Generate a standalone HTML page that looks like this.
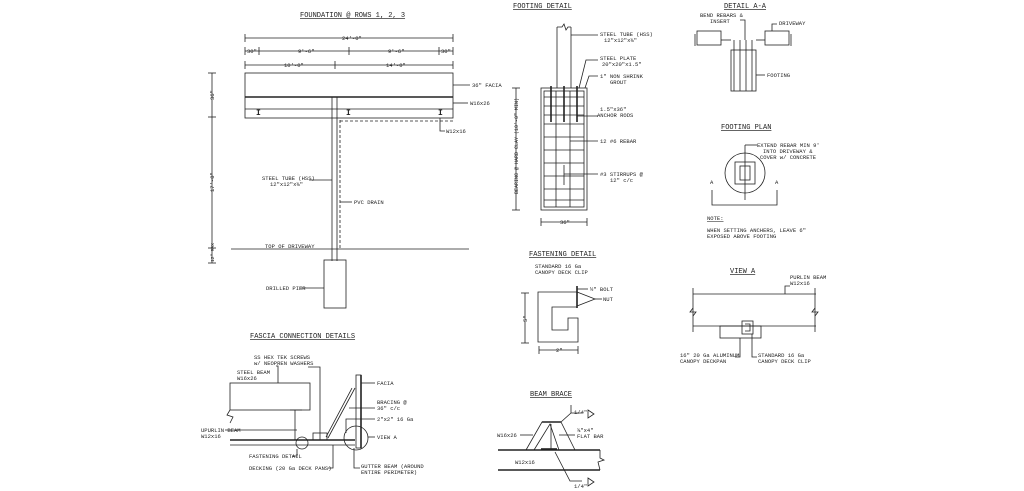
<!DOCTYPE html>
<html><head><meta charset="utf-8"><style>
html,body{margin:0;padding:0;background:#fff}
svg{display:block}
text{font-family:"Liberation Mono",monospace;font-size:5.5px;fill:#222}
.t{font-size:7px;text-decoration:underline}
line,rect,path,circle,polyline,polygon{stroke:#222;stroke-width:.8;fill:none}
.th{stroke-width:1.6}
.d{stroke-dasharray:3 2}
</style></head><body>
<svg width="1024" height="491" viewBox="0 0 1024 491" xmlns="http://www.w3.org/2000/svg">
<!-- FOUNDATION -->
<text class="t" x="300" y="17">FOUNDATION @ ROWS 1, 2, 3</text>
<line x1="245" y1="38" x2="453" y2="38"/><line x1="245" y1="34" x2="245" y2="42"/><line x1="453" y1="34" x2="453" y2="42"/>
<text x="342" y="40">24'-0"</text>
<line x1="245" y1="51" x2="453" y2="51"/>
<g><line x1="245" y1="47" x2="245" y2="55"/><line x1="259" y1="47" x2="259" y2="55"/><line x1="349" y1="47" x2="349" y2="55"/><line x1="439" y1="47" x2="439" y2="55"/><line x1="453" y1="47" x2="453" y2="55"/></g>
<text x="247" y="53">30"</text><text x="298" y="53">9'-6"</text><text x="388" y="53">9'-6"</text><text x="441" y="53">30"</text>
<line x1="245" y1="65" x2="453" y2="65"/><line x1="245" y1="61" x2="245" y2="69"/><line x1="335" y1="61" x2="335" y2="69"/><line x1="453" y1="61" x2="453" y2="69"/>
<text x="284" y="67">10'-0"</text><text x="386" y="67">14'-0"</text>
<rect x="245" y="73" width="208" height="45"/>
<line class="th" x1="245" y1="97" x2="453" y2="97"/>
<line x1="245" y1="109" x2="453" y2="109"/>
<text x="256" y="115" style="font-size:8px;font-weight:bold">I</text><text x="346" y="115" style="font-size:8px;font-weight:bold">I</text><text x="438" y="115" style="font-size:8px;font-weight:bold">I</text>
<line x1="332" y1="97" x2="332" y2="261"/><line x1="337" y1="97" x2="337" y2="261"/>
<line class="d" x1="340" y1="120" x2="340" y2="248"/><line class="d" x1="340" y1="121" x2="453" y2="121"/>
<line x1="453" y1="85" x2="470" y2="85"/><text x="472" y="87">36" FACIA</text>
<line x1="453" y1="103" x2="468" y2="103"/><text x="470" y="105">W16x26</text>
<polyline points="440,118 440,131 445,131"/><text x="446" y="133">W12x16</text>
<line x1="231" y1="249" x2="469" y2="249"/>
<text x="265" y="248">TOP OF DRIVEWAY</text>
<rect x="324" y="260" width="22" height="48"/>
<line x1="300" y1="288" x2="324" y2="288"/><text x="266" y="290">DRILLED PIER</text>
<line x1="309" y1="180" x2="332" y2="180"/><text x="262" y="180">STEEL TUBE (HSS)</text><text x="270" y="186">12"x12"x⅜"</text>
<line x1="340" y1="202" x2="352" y2="202"/><text x="354" y="204">PVC DRAIN</text>
<line x1="212" y1="73" x2="212" y2="263"/><line x1="208" y1="73" x2="216" y2="73"/><line x1="208" y1="117" x2="216" y2="117"/><line x1="208" y1="248" x2="216" y2="248"/><line x1="208" y1="263" x2="216" y2="263"/>
<text transform="translate(214,100) rotate(-90)">36"</text><text transform="translate(214,192) rotate(-90)">17'-0"</text><text transform="translate(214,262) rotate(-90)" style="font-size:4.5px">12" MAX</text>
<!-- FOOTING DETAIL -->
<text class="t" x="513" y="8">FOOTING DETAIL</text>
<line x1="557" y1="27" x2="557" y2="88"/><line x1="571" y1="27" x2="571" y2="88"/><path d="M557 27 L562 27 L564 24 L566 30 L568 27 L571 27"/>
<line x1="571" y1="35" x2="598" y2="35"/><text x="600" y="36">STEEL TUBE (HSS)</text><text x="604" y="42">12"x12"x⅜"</text>
<path d="M579 88 L586 60 L598 60"/><text x="600" y="60">STEEL PLATE</text><text x="602" y="66">20"x20"x1.5"</text>
<path d="M585 88 L589 76 L598 76"/><text x="600" y="78">1" NON SHRINK</text><text x="610" y="84">GROUT</text>
<rect x="541" y="88" width="46" height="122"/>
<rect x="544" y="91" width="40" height="116"/>
<g><line x1="544" y1="97" x2="584" y2="97"/><line x1="544" y1="106" x2="584" y2="106"/><line x1="544" y1="115" x2="584" y2="115"/><line x1="544" y1="124" x2="584" y2="124"/><line x1="544" y1="137" x2="584" y2="137"/><line x1="544" y1="150" x2="584" y2="150"/><line x1="544" y1="163" x2="584" y2="163"/><line x1="544" y1="176" x2="584" y2="176"/><line x1="544" y1="189" x2="584" y2="189"/><line x1="544" y1="200" x2="584" y2="200"/>
<line x1="556" y1="91" x2="556" y2="207"/><line x1="570" y1="91" x2="570" y2="207"/></g>
<g><line class="th" x1="551" y1="86" x2="551" y2="122"/><line class="th" x1="564" y1="86" x2="564" y2="122"/><line class="th" x1="577" y1="86" x2="577" y2="122"/></g>
<line x1="577" y1="116" x2="598" y2="116"/><text x="600" y="111">1.5"x36"</text><text x="597" y="117">ANCHOR RODS</text>
<line x1="570" y1="141" x2="598" y2="141"/><text x="600" y="143">12 #6 REBAR</text>
<line x1="564" y1="174" x2="598" y2="174"/><line x1="564" y1="165" x2="564" y2="185"/><text x="600" y="176">#3 STIRRUPS @</text><text x="610" y="182">12" c/c</text>
<line x1="516" y1="88" x2="516" y2="210"/><line x1="512" y1="88" x2="520" y2="88"/><line x1="512" y1="210" x2="520" y2="210"/>
<text transform="translate(518,194) rotate(-90)" style="font-size:5px">BEARING @ HARD CLAY (10'-0" MIN)</text>
<line x1="541" y1="222" x2="587" y2="222"/><line x1="541" y1="218" x2="541" y2="226"/><line x1="587" y1="218" x2="587" y2="226"/><text x="560" y="224">36"</text>
<!-- DETAIL A-A -->
<text class="t" x="724" y="8">DETAIL A-A</text>
<line x1="695" y1="34" x2="695" y2="46"/><rect x="697" y="31" width="24" height="14"/><line x1="721" y1="40" x2="731" y2="40"/>
<rect x="765" y="31" width="24" height="14"/><line x1="791" y1="34" x2="791" y2="46"/><line x1="756" y1="40" x2="765" y2="40"/>
<rect x="731" y="50" width="25" height="41"/><line x1="734" y1="40" x2="734" y2="91"/><line x1="740" y1="40" x2="740" y2="91"/><line x1="746" y1="40" x2="746" y2="91"/><line x1="752" y1="40" x2="752" y2="91"/>
<path d="M740 20 L745 20 L745 40"/><text x="700" y="17">BEND REBARS &amp;</text><text x="710" y="23">INSERT</text>
<path d="M772 31 L772 24 L777 24"/><text x="779" y="25">DRIVEWAY</text>
<line x1="756" y1="75" x2="765" y2="75"/><text x="767" y="77">FOOTING</text>
<!-- FOOTING PLAN -->
<text class="t" x="721" y="129">FOOTING PLAN</text>
<circle cx="745" cy="173" r="20"/><rect x="735" y="162" width="20" height="22"/><rect x="740" y="166" width="10" height="14"/>
<line x1="745" y1="145" x2="745" y2="200"/><line x1="745" y1="145" x2="757" y2="145"/>
<text x="757" y="147">EXTEND REBAR MIN 9'</text><text x="763" y="153">INTO DRIVEWAY &amp;</text><text x="760" y="159">COVER w/ CONCRETE</text>
<text x="710" y="184">A</text><text x="775" y="184">A</text>
<polyline points="712,190 712,205 777,205 777,190"/>
<text x="707" y="220" style="text-decoration:underline">NOTE:</text>
<text x="707" y="232">WHEN SETTING ANCHERS, LEAVE 6"</text><text x="707" y="238">EXPOSED ABOVE FOOTING</text>
<!-- FASTENING DETAIL -->
<text class="t" x="529" y="256">FASTENING DETAIL</text>
<text x="535" y="268">STANDARD 16 Ga</text><text x="535" y="274">CANOPY DECK CLIP</text>
<path d="M577 307 L552 307 L552 330 L568 330 L568 318 L578 318 L578 342 L538 342 L538 292 L577 292 Z"/>
<line class="th" x1="577" y1="286" x2="577" y2="308"/>
<line x1="577" y1="289" x2="588" y2="289"/><text x="590" y="291">½" BOLT</text>
<polyline points="577,292 595,299 577,306"/><line x1="595" y1="299" x2="602" y2="299"/><text x="603" y="301">NUT</text>
<line x1="525" y1="293" x2="525" y2="343"/><line x1="521" y1="293" x2="529" y2="293"/><line x1="521" y1="343" x2="529" y2="343"/><text transform="translate(527,322) rotate(-90)">5"</text>
<line x1="539" y1="350" x2="578" y2="350"/><line x1="539" y1="346" x2="539" y2="354"/><line x1="578" y1="346" x2="578" y2="354"/><text x="556" y="352">2"</text>
<!-- VIEW A -->
<text class="t" x="730" y="273">VIEW A</text>
<line x1="693" y1="294" x2="816" y2="294"/><line x1="693" y1="326" x2="816" y2="326"/>
<line x1="693" y1="288" x2="693" y2="332"/><line x1="815" y1="288" x2="815" y2="332"/>
<path d="M693 308 L690 312 L696 312 L693 316"/><path d="M815 308 L812 312 L818 312 L815 316"/>
<rect x="720" y="326" width="41" height="12"/><rect x="742" y="321" width="11" height="13"/><path d="M745 324 L750 324 L750 331 L745 331"/>
<path d="M785 294 L785 286 L790 286"/><text x="790" y="279">PURLIN BEAM</text><text x="790" y="285">W12x16</text>
<path d="M740 338 L740 357 L735 357"/><text x="680" y="357">16" 20 Ga ALUMINUM</text><text x="680" y="363">CANOPY DECKPAN</text>
<path d="M752 334 L752 357 L757 357"/><text x="758" y="357">STANDARD 16 Ga</text><text x="758" y="363">CANOPY DECK CLIP</text>
<!-- BEAM BRACE -->
<text class="t" x="530" y="396">BEAM BRACE</text>
<line class="th" x1="498" y1="450" x2="600" y2="450"/><line class="th" x1="498" y1="470" x2="600" y2="470"/>
<path d="M600 450 L600 458 L604 460 L598 462 L600 470"/>
<polyline points="526,450 542,422 561,422 575,450"/><polyline points="534,450 550,424 559,450"/><line x1="551" y1="424" x2="551" y2="450"/>
<line class="th" x1="542" y1="422" x2="561" y2="422"/><line class="th" x1="541" y1="449" x2="557" y2="449"/>
<path d="M561 422 L571 413 L582 413"/><text x="574" y="414">1/4"</text><polygon points="588,410 594,414 588,418"/><line x1="571" y1="405" x2="571" y2="413"/>
<line x1="559" y1="435" x2="575" y2="435"/><text x="577" y="432">⅜"x4"</text><text x="577" y="438">FLAT BAR</text>
<line x1="520" y1="435" x2="533" y2="435"/><text x="497" y="437">W16x26</text>
<text x="515" y="464">W12x16</text>
<path d="M555 452 L570 481 L582 481"/><text x="574" y="488">1/4"</text><polygon points="588,478 594,482 588,486"/>
<!-- FASCIA CONNECTION -->
<text class="t" x="250" y="338">FASCIA CONNECTION DETAILS</text>
<rect x="230" y="383" width="80" height="27"/><path d="M230 410 L227 415 L233 417 L230 423"/>
<line x1="295" y1="410" x2="295" y2="440"/><line x1="290" y1="410" x2="302" y2="410"/>
<line class="th" x1="230" y1="440" x2="355" y2="440"/><line x1="230" y1="445" x2="355" y2="445"/>
<circle cx="302" cy="443" r="6"/><circle cx="356" cy="438" r="12"/>
<rect x="356" y="375" width="5" height="73"/><line class="th" x1="361" y1="375" x2="361" y2="448"/>
<line x1="355" y1="388" x2="328" y2="438"/><line x1="352" y1="388" x2="326" y2="437"/>
<rect x="313" y="433" width="14" height="7"/>
<path d="M276 366 L278 366 L278 383"/><text x="237" y="374">STEEL BEAM</text><text x="237" y="380">W16x26</text>
<path d="M308 367 L320 367 L320 440"/><text x="254" y="359">SS HEX TEK SCREWS</text><text x="254" y="365">w/ NEOPREN WASHERS</text>
<line x1="361" y1="383" x2="375" y2="383"/><text x="377" y="385">FACIA</text>
<line x1="349" y1="408" x2="375" y2="408"/><text x="377" y="404">BRACING @</text><text x="377" y="410">36" c/c</text>
<path d="M346 433 L346 419 L375 419"/><text x="377" y="421">2"x2" 16 Ga</text>
<line x1="368" y1="437" x2="375" y2="437"/><text x="377" y="439">VIEW A</text>
<line x1="225" y1="430" x2="297" y2="430"/><text x="201" y="432">UPURLIN BEAM</text><text x="201" y="438">W12x16</text>
<path d="M297 449 L297 456 L292 456"/><text x="249" y="458">FASTENING DETAIL</text>
<path d="M333 445 L333 468 L328 468"/><text x="249" y="470">DECKING (20 Ga DECK PANS)</text>
<path d="M354 448 L354 468 L360 468"/><text x="361" y="468">GUTTER BEAM (AROUND</text><text x="361" y="474">ENTIRE PERIMETER)</text>
</svg>
</body></html>
